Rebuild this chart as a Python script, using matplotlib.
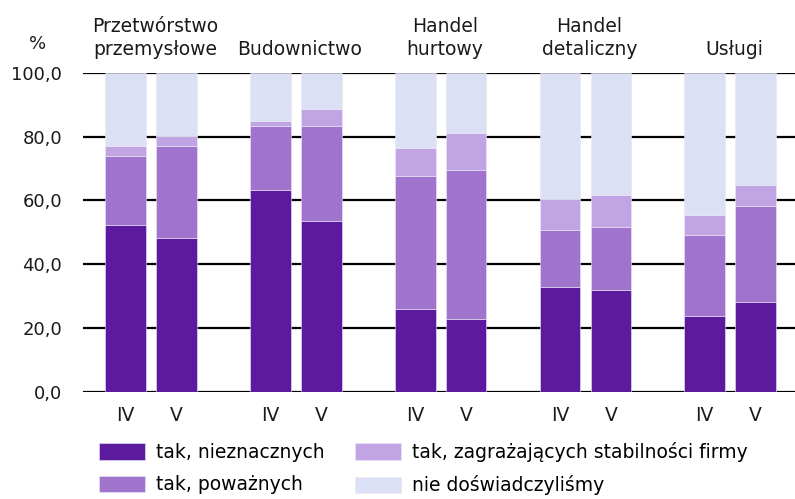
import numpy as np
import matplotlib.pyplot as plt
from matplotlib.ticker import FuncFormatter

plt.rcParams['font.family'] = ['DejaVu Sans']

# Data (shares in %)
groups = ['Przetwórstwo\nprzemysłowe', 'Budownictwo', 'Handel\nhurtowy',
          'Handel\ndetaliczny', 'Usługi']
periods = ['IV', 'V']
series_names = ['tak, nieznacznych', 'tak, poważnych',
                'tak, zagrażających stabilności firmy', 'nie doświadczyliśmy']

# order: G1 IV, G1 V, G2 IV, G2 V, ...
nieznacznych = [52.3, 48.3, 63.4, 53.7, 26.1, 22.9, 32.9, 32.0, 23.7, 28.1]
powaznych = [21.6, 28.9, 20.1, 29.8, 41.7, 46.7, 17.9, 19.8, 25.6, 30.3]
zagrazajacych = [3.3, 3.0, 1.3, 5.3, 8.8, 11.7, 9.7, 9.8, 6.1, 6.5]
nie_dosw = [22.8, 19.8, 15.2, 11.2, 23.4, 18.7, 39.5, 38.4, 44.6, 35.1]

colors = ['#5c1a9e', '#a074cc', '#c0a4e4', '#dce0f4']

fig = plt.figure(figsize=(7.95, 4.99), dpi=100)
ax = fig.add_axes([83 / 795, 1 - 391.7 / 499, 1 - 83 / 795, (391.7 - 73) / 499])

group_step = 2.84
x = np.array([g * group_step + j for g in range(len(groups)) for j in range(len(periods))])

bottom = np.zeros(len(x))
for name, vals, c in zip(series_names, [nieznacznych, powaznych, zagrazajacych, nie_dosw], colors):
    ax.bar(x, vals, width=0.8, bottom=bottom, color=c, label=name, zorder=3,
           edgecolor='#ece6f6', linewidth=0.4)
    bottom += np.array(vals)

ax.set_ylim(0, 100)
ax.set_xlim(-0.833, 13.13)
ax.set_yticks(np.arange(0, 101, 20))
ax.yaxis.set_major_formatter(FuncFormatter(lambda v, p: f'{v:.1f}'.replace('.', ',')))
ax.grid(axis='y', color='black', linewidth=1.6, zorder=0)
ax.set_axisbelow(True)
for s in ax.spines.values():
    s.set_visible(False)
ax.set_xticks(x)
ax.set_xticklabels(periods * len(groups))
ax.tick_params(axis='both', length=0, colors='#1a1a1a')
ax.tick_params(axis='y', pad=15, labelsize=13)
ax.tick_params(axis='x', pad=10, labelsize=13.5)

for g, name in enumerate(groups):
    ax.text(g * group_step + 0.58, 1.057, name, transform=ax.get_xaxis_transform(),
            ha='center', va='baseline', fontsize=13.5, linespacing=1.25, color='#1a1a1a')

fig.text(38 / 795, 1 - 44 / 499, '%', ha='center', va='center', fontsize=13, color='#1a1a1a')

fig.legend(loc='upper left', bbox_to_anchor=(99 / 795, 1 - 442 / 499), ncol=2,
           frameon=False, fontsize=13.5, handlelength=2.45, handleheight=0.95,
           handletextpad=0.6, columnspacing=1.6, labelspacing=0.7,
           borderpad=0, borderaxespad=0)

plt.savefig('out.png', dpi=100)
